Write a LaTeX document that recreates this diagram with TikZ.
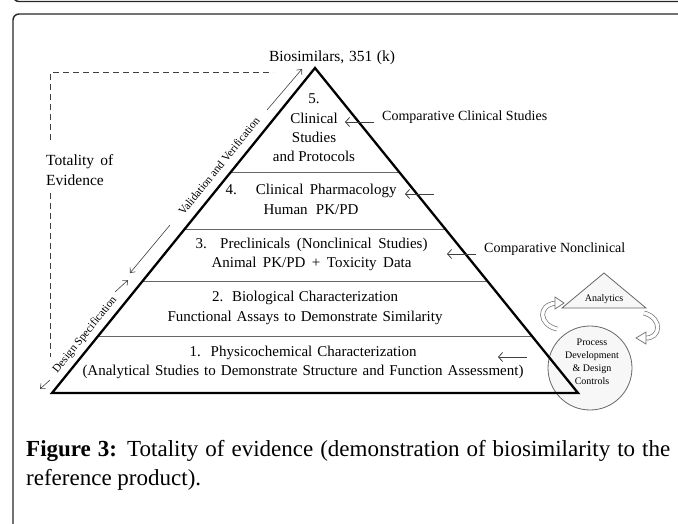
\documentclass[tikz,border=0pt]{standalone}
\usepackage{fontspec}
\setmainfont{Liberation Serif}
\usetikzlibrary{arrows.meta,calc,shapes.geometric}
\newlength\natwd
\newcommand{\spreadto}[2]{\settowidth{\natwd}{#2}\ifdim\natwd<#1\makebox[#1][s]{#2}\else #2\fi}
\begin{document}
\begin{tikzpicture}[x=1pt,y=-1pt,
  frameline/.style={draw=black!85, line width=1.4pt, rounded corners=6pt},
  lvl/.style={align=center, font=\fontsize{15}{19.3}\selectfont, inner sep=0pt},
  side/.style={font=\fontsize{15.5}{19.3}\selectfont, inner sep=0pt},
  rlabel/.style={font=\fontsize{14}{19}\selectfont, inner sep=0pt, anchor=west},
  slopetext/.style={font=\fontsize{11.3}{12}\selectfont, inner sep=0pt, rotate=51},
  small/.style={align=center, font=\fontsize{10}{13}\selectfont, inner sep=0pt},
  pyr/.style={draw=black, line width=2.3pt, line join=miter},
  divider/.style={draw=black!60, line width=0.9pt},
  arr/.style={draw=black!75, line width=0.8pt, -{Straight Barb[length=4pt,width=9pt]}},
  thinarr/.style={draw=black!75, line width=0.6pt, -{Straight Barb[length=4pt,width=7pt]}},
  dashline/.style={draw=black!75, line width=1pt, dash pattern=on 6pt off 4pt},
  hollow/.style={draw=black!55, line width=0.7pt, double=white, double distance=3.4pt},
  head/.style={draw=black!55, line width=0.7pt, fill=white, line join=miter}
]
\useasboundingbox (0,0) rectangle (678,524);

% frames
\draw[frameline] (13,-12) -- (13,1.5) -- (690,1.5);
\draw[frameline] (13,540) -- (13,14) -- (690,14);

% dashed bracket
\coordinate (d1) at (50,140);
\coordinate (d2) at (50,73);
\coordinate (d3) at (273,73);
\coordinate (d4) at (50,193);
\coordinate (d5) at (50,357);
\draw[dashline] (d1) -- (d2) -- (d3);
\draw[dashline] (d4) -- (d5);
\node[side, anchor=west, align=left] (tot) at (46,170) {\spreadto{67pt}{Totality of}\\Evidence};

% process circle (behind pyramid)
\node[circle, draw=black!60, line width=0.8pt, fill=black!3, minimum size=84pt, inner sep=0pt] (pdc) at (590,368) {};

% pyramid
\coordinate (L) at (52,393);
\coordinate (R) at (578,393);
\coordinate (A) at (315,68);
\foreach \t/\n in {0.680/a, 0.5046/b, 0.3446/c, 0.1754/d}{
  \coordinate (l\n) at ($(L)!\t!(A)$);
  \coordinate (r\n) at ($(R)!\t!(A)$);
  \draw[divider] (l\n) -- (r\n);
}
\draw[pyr] (L) -- (A) -- (R) -- cycle;

\node[small] (pdctext) at (592,362) {Process\\Development\\\& Design\\Controls};

% pyramid texts
\node[side] (bio) at (332,58) {\spreadto{126pt}{Biosimilars, 351 (k)}};
\node[lvl] (l5) at (314,128) {5.\\Clinical\\Studies\\and Protocols};
\node[lvl] (l4) at (311,199.5) {\spreadto{171pt}{4.\ \ \ Clinical Pharmacology}\\\spreadto{95pt}{Human PK/PD}};
\node[lvl] (l3) at (311.5,254.5) {\spreadto{232pt}{3. Preclinicals (Nonclinical Studies)}\\\spreadto{200pt}{Animal PK/PD + Toxicity Data}};
\node[lvl] (l2) at (305,308) {\spreadto{186pt}{2.\ \ Biological Characterization}\\\spreadto{275pt}{Functional Assays to Demonstrate Similarity}};
\node[lvl] (l1) at (303,362.5) {\spreadto{227pt}{1.\ \ Physicochemical Characterization}\\\spreadto{441pt}{(Analytical Studies to Demonstrate Structure and Function Assessment)}};

% right side labels and arrows
\node[rlabel] (ccs) at (382,117) {\spreadto{165pt}{Comparative Clinical Studies}};
\node[rlabel] (cnc) at (484,249) {\spreadto{138pt}{Comparative Nonclinical}};
\coordinate (a5s) at (374,122); \coordinate (a5e) at (345,122);
\coordinate (a4s) at (434,194); \coordinate (a4e) at (405,194);
\coordinate (a3s) at (476,254); \coordinate (a3e) at (447,254);
\coordinate (a1s) at (527,357); \coordinate (a1e) at (498,357);
\draw[arr] (a5s) -- (a5e);
\draw[arr] (a4s) -- (a4e);
\draw[arr] (a3s) -- (a3e);
\draw[arr] (a1s) -- (a1e);

% left slope labels and arrows
\node[slopetext] (vv) at (219,166) {Validation and Verification};
\node[slopetext] (ds) at (85,335) {Design Specification};
\coordinate (v1) at (267,110); \coordinate (v2) at (302,69);
\coordinate (v3) at (170,225); \coordinate (v4) at (130,273);
\coordinate (s1) at (115,292); \coordinate (s2) at (128,280);
\coordinate (s3) at (50,380); \coordinate (s4) at (40,389);
\draw[thinarr] (v1) -- (v2);
\draw[thinarr] (v3) -- (v4);
\draw[thinarr] (s1) -- (s2);
\draw[thinarr] (s3) -- (s4);

% analytics triangle
\draw[draw=black!60, line width=0.8pt, fill=black!3, line join=miter] (604,273) -- (646,308) -- (562,308) -- cycle;
\node[small] (ana) at (604,299) {Analytics};

% hollow curved arrows
\draw[hollow] (557,329) .. controls (539,325) and (537,305) .. (556,303);
\draw[head] (555,297) -- (564,303) -- (555,309) -- cycle;
\draw[hollow] (644,313) .. controls (663,318) and (661,339) .. (645,338);
\draw[head] (646,332) -- (636,338) -- (646,344) -- cycle;

% caption
\node[anchor=west, inner sep=0pt, font=\fontsize{23}{29}\selectfont] (cap1) at (26,451) {\spreadto{644pt}{\textbf{Figure 3:} Totality of evidence (demonstration of biosimilarity to the}};
\node[anchor=west, inner sep=0pt, font=\fontsize{23}{29}\selectfont] (cap2) at (26,480) {reference product).};
\end{tikzpicture}
\end{document}
